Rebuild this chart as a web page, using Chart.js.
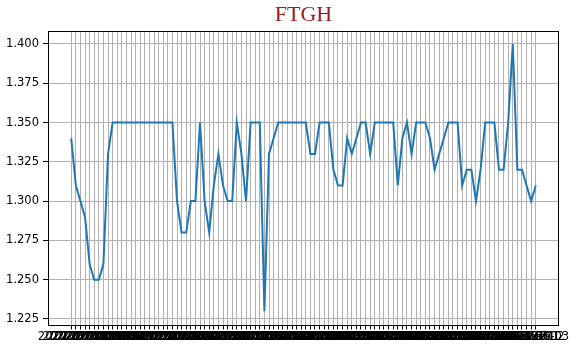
<!DOCTYPE html>
<html>
<head>
<meta charset="utf-8">
<script src="https://cdn.jsdelivr.net/npm/chart.js@4/dist/chart.umd.min.js"></script>
<style>
  html, body { margin: 0; padding: 0; background: #fff; }
  #wrap { width: 581px; height: 349px; }
</style>
</head>
<body>
<div id="wrap"><canvas id="chart" width="581" height="349"></canvas></div>
<script>
// x tick labels (one per point, they overlap like in the original)
const dates = [
  '2022-01-13', '2022-01-14', '2022-01-17', '2022-01-18', '2022-01-19', '2022-01-20', '2022-01-21',
  '2022-01-24', '2022-01-25', '2022-01-26', '2022-01-27', '2022-01-28', '2022-01-31',
  '2022-02-01', '2022-02-02', '2022-02-03', '2022-02-04', '2022-02-07', '2022-02-08', '2022-02-09',
  '2022-02-10', '2022-02-11', '2022-02-14', '2022-02-15', '2022-02-16', '2022-02-17', '2022-02-18',
  '2022-02-21', '2022-02-22', '2022-02-23', '2022-02-24', '2022-02-25', '2022-02-28',
  '2022-03-01', '2022-03-02', '2022-03-03', '2022-03-04', '2022-03-07', '2022-03-08', '2022-03-09',
  '2022-03-10', '2022-03-11', '2022-03-14', '2022-03-15', '2022-03-16', '2022-03-17', '2022-03-18',
  '2022-03-21', '2022-03-22', '2022-03-23', '2022-03-24', '2022-03-25', '2022-03-28', '2022-03-29',
  '2022-03-30', '2022-03-31',
  '2022-04-01', '2022-04-04', '2022-04-05', '2022-04-06', '2022-04-07', '2022-04-08', '2022-04-11',
  '2022-04-12', '2022-04-13', '2022-04-14', '2022-04-15', '2022-04-18', '2022-04-19', '2022-04-20',
  '2022-04-21', '2022-04-22', '2022-04-25', '2022-04-26', '2022-04-27', '2022-04-28', '2022-04-29',
  '2022-05-02', '2022-05-03', '2022-05-04', '2022-05-05', '2022-05-06', '2022-05-09', '2022-05-10',
  '2022-05-11', '2022-05-12', '2022-05-13', '2022-05-16', '2022-05-17', '2022-05-18', '2022-05-19',
  '2022-05-20', '2022-05-23', '2022-05-24', '2022-05-25', '2022-05-26', '2022-05-27', '2022-05-30',
  '2022-05-31',
  '2022-06-01', '2022-06-02', '2022-06-03'
];

const prices = [
  1.34, 1.31, 1.30, 1.29, 1.26, 1.25, 1.25, 1.26, 1.33, 1.35,
  1.35, 1.35, 1.35, 1.35, 1.35, 1.35, 1.35, 1.35, 1.35, 1.35, 1.35, 1.35, 1.35,
  1.30, 1.28, 1.28, 1.30, 1.30, 1.35, 1.30,
  1.28, 1.31, 1.33, 1.31, 1.30, 1.30, 1.35, 1.33, 1.30, 1.35, 1.35, 1.35,
  1.23, 1.33, 1.34, 1.35, 1.35, 1.35, 1.35, 1.35, 1.35, 1.35,
  1.33, 1.33, 1.35, 1.35, 1.35, 1.32, 1.31, 1.31, 1.34, 1.33,
  1.34, 1.35, 1.35, 1.33, 1.35, 1.35, 1.35, 1.35, 1.35, 1.31,
  1.34, 1.35, 1.33, 1.35, 1.35, 1.35, 1.34, 1.32, 1.33, 1.34,
  1.35, 1.35, 1.35, 1.31, 1.32, 1.32, 1.30, 1.32, 1.35, 1.35,
  1.35, 1.32, 1.32, 1.35, 1.40, 1.32, 1.32, 1.31, 1.30, 1.31
];

const yTicks = [1.225, 1.25, 1.275, 1.3, 1.325, 1.35, 1.375, 1.4];

Chart.defaults.font.family = 'DejaVu Sans';
Chart.defaults.font.size = 11.5;
Chart.defaults.color = '#000';

// matplotlib-like margins (5% of the data range on each side)
const xPad = (prices.length - 1) * 0.05;
const yLo = Math.min(...prices), yHi = Math.max(...prices);
const yPad = (yHi - yLo) * 0.05;

// box around the plot area, like the axes spines
const frame = {
  id: 'frame',
  afterDatasetsDraw(chart) {
    const { ctx, chartArea: a } = chart;
    ctx.save();
    ctx.strokeStyle = '#000';
    ctx.lineWidth = 1;
    ctx.strokeRect(Math.round(a.left) + 0.5, Math.round(a.top) + 0.5,
      Math.round(a.right - a.left) - 1, Math.round(a.bottom - a.top));
    ctx.restore();
  }
};

new Chart(document.getElementById('chart').getContext('2d'), {
  type: 'line',
  data: {
    datasets: [{
      data: prices.map((v, i) => ({ x: i, y: v })),
      borderColor: '#1f77b4',
      borderWidth: 2,
      pointRadius: 0,
      tension: 0,
      fill: false,
    }]
  },
  options: {
    responsive: false,
    animation: false,
    layout: { padding: { left: 0, right: 22, top: 0, bottom: 0 } },
    plugins: {
      legend: { display: false },
      tooltip: { enabled: false },
      title: {
        display: true,
        text: 'FTGH',
        fullSize: false,
        color: '#a01c1c',
        font: { family: 'Liberation Serif', size: 22, weight: 'normal', lineHeight: 1.2 },
        padding: { top: 2, bottom: 2.2 },
      },
    },
    scales: {
      x: {
        type: 'linear',
        min: -xPad,
        max: prices.length - 1 + xPad,
        afterBuildTicks: (scale) => { scale.ticks = dates.map((_, i) => ({ value: i })); },
        afterFit: (scale) => { scale.height = 24.5; },
        ticks: {
          autoSkip: false,
          maxRotation: 0,
          minRotation: 0,
          padding: 1,
          callback: (v) => dates[v],
        },
        grid: { color: '#b0b0b0', lineWidth: 1, tickColor: '#000', tickLength: 5 },
        border: { display: false },
      },
      y: {
        min: yLo - yPad,
        max: yHi + yPad,
        afterBuildTicks: (scale) => { scale.ticks = yTicks.map(v => ({ value: v })); },
        afterFit: (scale) => { scale.width = 48; },
        ticks: {
          padding: 4,
          callback: (v) => v.toFixed(3),
        },
        grid: { color: '#b0b0b0', lineWidth: 1, tickColor: '#000', tickLength: 5 },
        border: { display: false },
      },
    },
  },
  plugins: [frame],
});
</script>
</body>
</html>
